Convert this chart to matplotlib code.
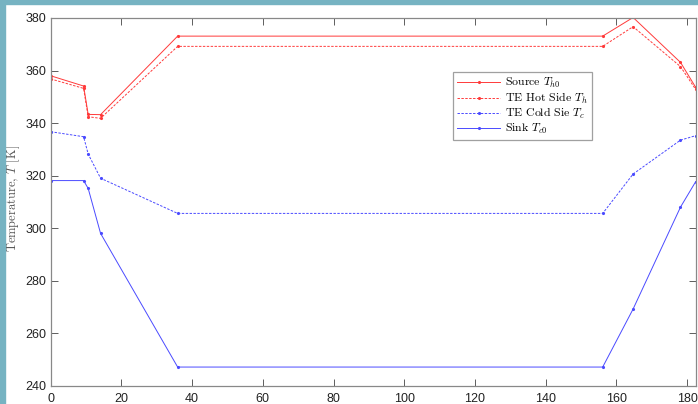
import numpy as np
import matplotlib
matplotlib.use("Agg")
import matplotlib.pyplot as plt
from matplotlib.patches import Rectangle

# time positions of the samples
t = [0, 9.3, 10.6, 14.1, 35.9, 156.1, 164.7, 178.1, 182.4]

T_h0 = [358.0, 354.1, 343.3, 343.2, 373.1, 373.1, 380.2, 363.1, 353.6]
T_h = [356.8, 353.2, 342.4, 341.8, 369.2, 369.2, 376.7, 361.5, 352.8]
T_c = [336.7, 334.8, 328.2, 319.0, 305.6, 305.6, 320.6, 333.5, 335.2]
T_c0 = [318.1, 318.1, 315.1, 298.0, 247.1, 247.1, 269.2, 308.0, 317.7]

xticks = np.arange(0, 181, 20)
yticks = np.arange(240, 381, 20)

plt.rcParams['mathtext.fontset'] = 'cm'
plt.rcParams['axes.unicode_minus'] = False

fig = plt.figure(figsize=(6.98, 4.04), dpi=100)
# teal frame on left and top
fig.patches.append(Rectangle((0, 0), 5 / 698, 1, transform=fig.transFigure,
                             color='#76b3c2', zorder=0))
fig.patches.append(Rectangle((0, 1 - 4 / 404), 1, 4 / 404, transform=fig.transFigure,
                             color='#76b3c2', zorder=0))

ax = fig.add_axes([50.7 / 698, 18.3 / 404, 645 / 698, 367.7 / 404])

red = '#ff3a3a'
blue = '#4a4aff'
ax.plot(t, T_h0, '-', color=red, lw=0.7, marker='.', ms=2.5, label=r'Source $T_{h0}$')
ax.plot(t, T_h, '--', color=red, lw=0.7, marker='.', ms=2.5, dashes=(2.5, 1.5),
        label=r'TE Hot Side $T_h$')
ax.plot(t, T_c, '--', color=blue, lw=0.7, marker='.', ms=2.5, dashes=(2.5, 1.5),
        label=r'TE Cold Sie $T_c$')
ax.plot(t, T_c0, '-', color=blue, lw=0.7, marker='.', ms=2.5, label=r'Sink $T_{c0}$')

ax.set_xlim(0, 182.4)
ax.set_ylim(240, 380)
ax.set_xticks(xticks)
ax.set_yticks(yticks)
ax.tick_params(direction='in', length=5, width=0.6, top=True, right=True,
               labelsize=9, colors='#444444', labelcolor='#222222')
ax.tick_params(axis='x', pad=5)
ax.tick_params(axis='y', pad=3)
for lab in ax.get_xticklabels() + ax.get_yticklabels():
    lab.set_family('Liberation Sans')
for s in ax.spines.values():
    s.set_color('#888888')
    s.set_linewidth(0.9)

ax.set_ylabel(r'Temperature, $T$ [K]', family='cmr10', fontsize=9,
              color='#555555')
ax.yaxis.set_label_coords(-0.044, 0.51)

leg = ax.legend(loc='upper left', bbox_to_anchor=(0.624, 0.853),
                prop={'family': 'cmr10', 'size': 8.5}, frameon=True, fancybox=False,
                handlelength=3.6, borderpad=0.35, labelspacing=0.05, handletextpad=0.4,
                edgecolor='#888888', borderaxespad=0)
leg.get_frame().set_linewidth(0.9)

fig.savefig('out.png', dpi=100)
